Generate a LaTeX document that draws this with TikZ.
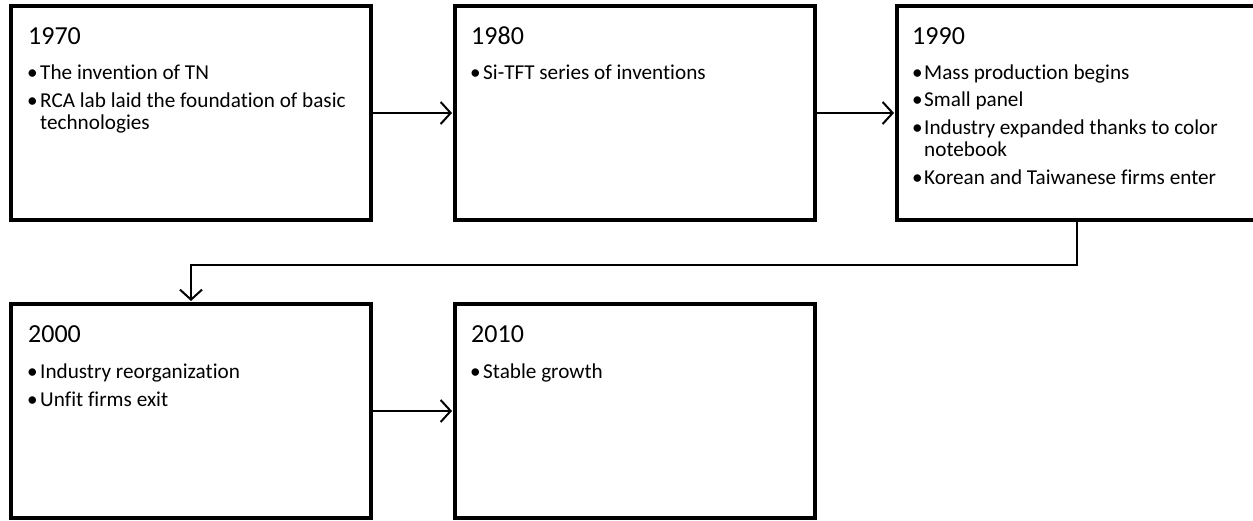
\documentclass[tikz,border=0pt]{standalone}
\usepackage{fontspec}
\setmainfont{Carlito}[Ligatures={NoCommon}]
\usetikzlibrary{arrows.meta}
\tikzset{
  boxst/.style={draw=black, line width=4pt, fill=white, inner sep=0pt,
    minimum width=360pt, minimum height=214pt},
  yr/.style={anchor=base west, inner sep=0pt, font=\fontsize{26}{30}\selectfont},
  txt/.style={anchor=base west, inner sep=0pt, font=\fontsize{21.2}{24}\selectfont},
  bul/.style={anchor=base west, inner sep=0pt, font=\fontsize{21.2}{24}\selectfont},
  conn/.style={draw=black, line width=2pt, -{Straight Barb[length=10pt, width=22pt, line width=2pt]}, shorten >=1pt},
  line/.style={draw=black, line width=2pt}
}
\begin{document}
\begin{tikzpicture}[x=1pt, y=-1pt]
\useasboundingbox (0,0) rectangle (1253,521);
\clip (0,0) rectangle (1253,521);
% boxes
\node[boxst] (b1) at (191,113) {};
\node[boxst] (b2) at (635,113) {};
\node[boxst] (b3) at (1077,113) {};
\node[boxst] (b4) at (191,411) {};
\node[boxst] (b5) at (635,411) {};
% box 1
\node[yr] (y1) at (28,45) {1970};
\node[bul] (p11) at (27,80) {•};
\node[txt] (t11) at (40,80) {The invention of TN};
\node[bul] (p12) at (27,108) {•};
\node[txt] (t12) at (40,108) {RCA lab laid the foundation of basic};
\node[txt] (t13) at (40,130) {technologies};
% box 2
\node[yr] (y2) at (471,45) {1980};
\node[bul] (p21) at (470,80) {•};
\node[txt] (t21) at (483,80) {Si-TFT series of inventions};
% box 3
\node[yr] (y3) at (912,45) {1990};
\node[bul] (p31) at (912,80) {•};
\node[txt] (t31) at (924,80) {Mass production begins};
\node[bul] (p32) at (912,107) {•};
\node[txt] (t32) at (924,107) {Small panel};
\node[bul] (p33) at (912,135) {•};
\node[txt] (t33) at (924,135) {Industry expanded thanks to color};
\node[txt] (t34) at (924,157) {notebook};
\node[bul] (p35) at (912,185) {•};
\node[txt] (t35) at (924,185) {Korean and Taiwanese firms enter};
% box 4
\node[yr] (y4) at (28,342) {2000};
\node[bul] (p41) at (27,378) {•};
\node[txt] (t41) at (40,378) {Industry reorganization};
\node[bul] (p42) at (27,406) {•};
\node[txt] (t42) at (40,406) {Unfit firms exit};
% box 5
\node[yr] (y5) at (471,342) {2010};
\node[bul] (p51) at (470,378) {•};
\node[txt] (t51) at (483,378) {Stable growth};
% connectors
\draw[conn] (b1.east) -- (b2.west);
\draw[conn] (b2.east) -- (b3.west);
\draw[conn] (b3.south) -- ++(0,43) -| (b4.north);
\draw[conn] (b4.east) -- (b5.west);
\end{tikzpicture}
\end{document}
